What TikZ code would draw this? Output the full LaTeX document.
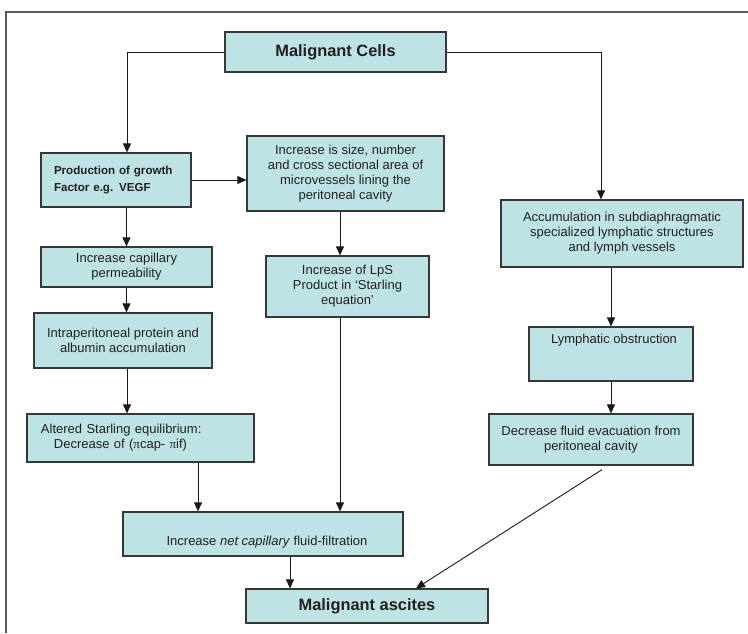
\documentclass[tikz,border=0pt]{standalone}
\usepackage{amsmath}
\usepackage{xcolor}
\usepackage{fontspec}
\setmainfont{Liberation Sans}
\newfontfamily\greekserif{Liberation Serif}
\usepackage{tikz}
\usetikzlibrary{arrows.meta}
\definecolor{boxfill}{RGB}{189,227,229}
\definecolor{boxline}{RGB}{55,55,55}
\definecolor{txt}{RGB}{35,31,32}

\begin{document}
\begin{tikzpicture}[x=1pt, y=-1pt,
        box/.style={draw=boxline, fill=boxfill, line width=1.2pt, inner sep=0pt, align=center, text=txt, font=\fontsize{13}{15}\selectfont},
        arr/.style={-{Triangle[length=9pt,width=8pt]}, line width=0.9pt, draw=black!90}]
        \useasboundingbox (0,0) rectangle (748,633);
        \draw[line width=1.8pt, draw=black!65] (6,633) -- (6,12) -- (748,12);
        \node[box, minimum width=221pt, minimum height=40pt, font=\bfseries\fontsize{16.4}{19}\selectfont] (1) at (335.5,52) {Malignant Cells};
        \node[box, minimum width=150pt, minimum height=54pt, align=left, text width=124pt, font=\bfseries\fontsize{11.6}{17}\selectfont] (2) at (116,180) {Production of growth\\Factor e.g. VEGF};
        \node[box, minimum width=197pt, minimum height=75pt] (3) at (345.5,173.5) {Increase is size, number\\and cross sectional area of\\microvessels lining the\\peritoneal cavity};
        \node[box, minimum width=171pt, minimum height=40pt] (4) at (126.5,267) {Increase capillary\\permeability};
        \node[box, minimum width=178pt, minimum height=55pt] (5) at (123,340.5) {Intraperitoneal protein and\\albumin accumulation};
        \node[box, minimum width=227pt, minimum height=48pt, align=left, text width=199pt] (6) at (140.5,438) {Altered Starling equilibrium:\\\hspace*{13pt}Decrease of ({\greekserif π}cap- {\greekserif π}if)};
        \node[box, minimum width=163pt, minimum height=61pt] (7) at (347.5,286.5) {Increase of LpS\\Product in ‘Starling\\equation’};
        \node[box, minimum width=280pt, minimum height=44pt] (8) at (263,534) {};
        \node[text=txt, font=\fontsize{13}{15}\selectfont] (8t) at (267,542) {Increase \textit{net capillary} fluid-filtration};
        \node[box, minimum width=242pt, minimum height=34pt, font=\bfseries\fontsize{16.4}{19}\selectfont] (9) at (367,606) {Malignant ascites};
        \node[box, minimum width=242pt, minimum height=67pt] (10) at (622,233.5) {Accumulation in subdiaphragmatic\\specialized lymphatic structures\\and lymph vessels};
        \node[box, minimum width=164pt, minimum height=54pt] (11) at (611,354) {};
        \node[text=txt, font=\fontsize{13}{15}\selectfont] (11t) at (614,340) {Lymphatic obstruction};
        \node[box, minimum width=204pt, minimum height=51pt] (12) at (591,439.5) {Decrease fluid evacuation from\\peritoneal cavity};
        \draw[arr] (1.west) -| ([xshift=11pt]2.north);
        \draw[arr] (1.east) -| ([xshift=-21pt]10.north);
        \draw[arr] (2.east) -- (2.east -| 3.west);
        \draw[arr] (4.north |- 2.south) -- (4.north);
        \draw[arr] (4.south) -- (4.south |- 5.north);
        \draw[arr] ([xshift=4pt]5.south) -- ([xshift=4pt]5.south |- 6.north);
        \draw[arr] ([xshift=57.5pt]6.south) -- ([xshift=57.5pt]6.south |- 8.north);
        \draw[arr] ([xshift=-5.5pt]3.south) -- ([xshift=-5.5pt]3.south |- 7.north);
        \draw[arr] ([xshift=-7.5pt]7.south) -- ([xshift=-7.5pt]7.south |- 8.north);
        \draw[arr] ([xshift=27pt]8.south) -- ([xshift=27pt]8.south |- 9.north);
        \draw[arr] (11.north |- 10.south) -- (11.north);
        \draw[arr] (11.south) -- (11.south |- 12.north);
        \draw[arr] ([xshift=11pt,yshift=-4pt]12.south) -- ([xshift=49pt]9.north);
    \end{tikzpicture}
\end{document}
